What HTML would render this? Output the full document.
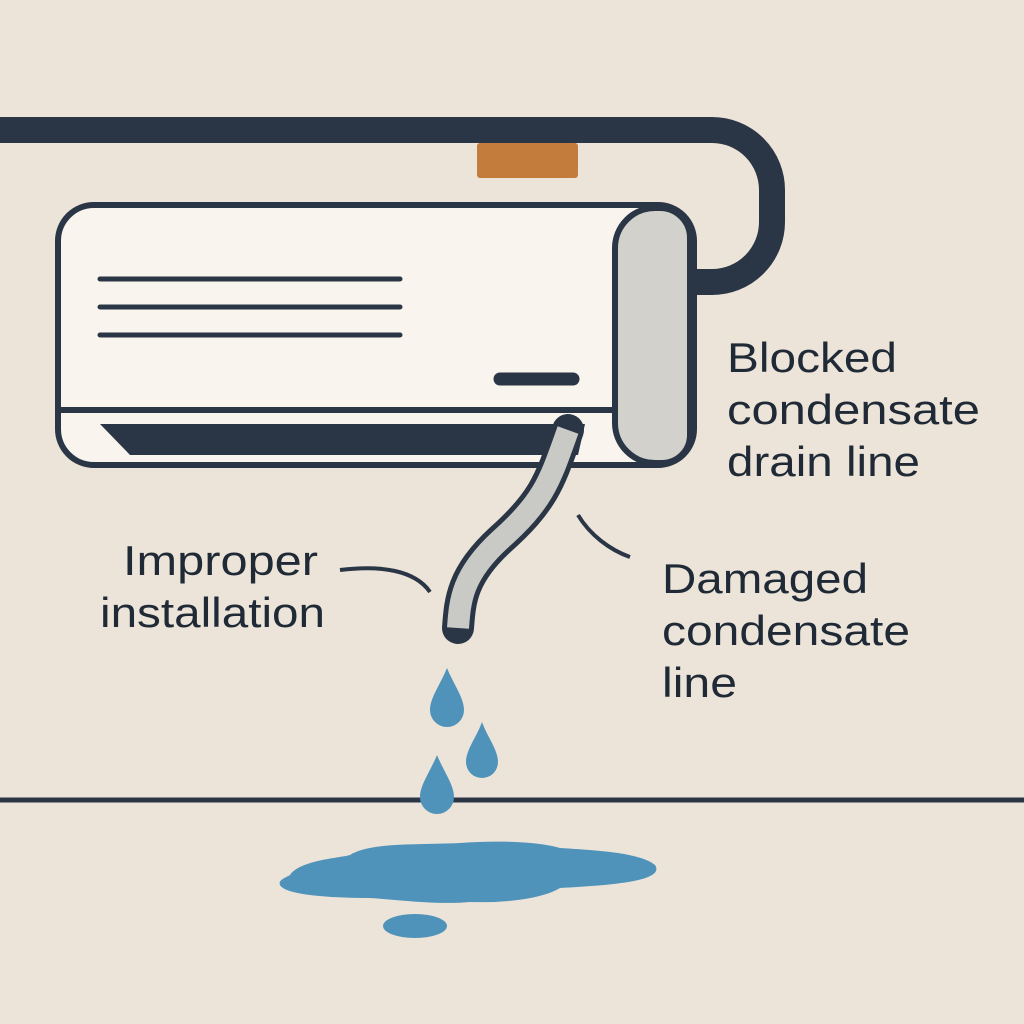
<!DOCTYPE html>
<html><head><meta charset="utf-8"><style>
html,body{margin:0;padding:0;background:#ece4d9;}
svg{display:block}
text{font-family:"Liberation Sans",sans-serif;fill:#1f2a36;font-size:42px}
</style></head><body>
<svg width="1024" height="1024" viewBox="0 0 1024 1024">
<rect width="1024" height="1024" fill="#ece4d9"/>
<path d="M0 130 H712 A60 60 0 0 1 772 190 V222 A60 60 0 0 1 712 282 H690" fill="none" stroke="#2a3645" stroke-width="26"/>
<rect x="477" y="143" width="101" height="35" rx="3" fill="#c47c3c"/>
<rect x="58" y="205" width="636" height="260" rx="36" fill="#f9f5ee" stroke="#2a3645" stroke-width="6"/>
<path d="M60 410 H640" stroke="#2a3645" stroke-width="6"/>
<path d="M100 424 H585 L578 455 H130 Z" fill="#2a3645"/>
<path d="M655 208 H660 A30 30 0 0 1 690 238 V435 A28 28 0 0 1 662 463 H655 A40 40 0 0 1 615 423 V248 A40 40 0 0 1 655 208 Z" fill="#d2d1cc" stroke="#2a3645" stroke-width="6"/>
<path d="M100 279 H400 M100 307 H400 M100 335 H400" stroke="#2a3645" stroke-width="5" stroke-linecap="round"/>
<path d="M500 379 H573" stroke="#2a3645" stroke-width="13" stroke-linecap="round"/>
<path d="M568 430 C550 480 545 500 500 540 C462 575 460 600 458 628" fill="none" stroke="#2a3645" stroke-width="32" stroke-linecap="round"/>
<path d="M568 430 C550 480 545 500 500 540 C462 575 460 600 458 628" fill="none" stroke="#c9c9c6" stroke-width="22" stroke-linecap="butt"/>
<path d="M340 570 C380 565 415 570 430 592" fill="none" stroke="#2a3645" stroke-width="4"/>
<path d="M578 515 C590 535 610 550 630 557" fill="none" stroke="#2a3645" stroke-width="4"/>
<text x="727" y="372" textLength="170" lengthAdjust="spacingAndGlyphs">Blocked</text>
<text x="727" y="424" textLength="253" lengthAdjust="spacingAndGlyphs">condensate</text>
<text x="727" y="476" textLength="193" lengthAdjust="spacingAndGlyphs">drain line</text>
<text x="123" y="575" textLength="195" lengthAdjust="spacingAndGlyphs">Improper</text>
<text x="100" y="627" textLength="225" lengthAdjust="spacingAndGlyphs">installation</text>
<text x="662" y="593" textLength="206" lengthAdjust="spacingAndGlyphs">Damaged</text>
<text x="662" y="645" textLength="248" lengthAdjust="spacingAndGlyphs">condensate</text>
<text x="662" y="697" textLength="75" lengthAdjust="spacingAndGlyphs">line</text>
<path d="M0 800 H1024" stroke="#2a3645" stroke-width="5"/>
<g fill="#4f93bb">
<path d="M447 668 C440 685 430 698 430 710 A17 17 0 0 0 464 710 C464 698 454 685 447 668Z"/>
<path d="M482 722 C476 738 466 750 466 762 A16 16 0 0 0 498 762 C498 750 488 738 482 722Z"/>
<path d="M437 755 C430 772 420 785 420 797 A17 17 0 0 0 454 797 C454 785 444 772 437 755Z"/>
<path d="M290 875 C300 860 340 858 350 855 C370 842 420 845 460 843 C500 840 540 842 560 848 C590 850 640 852 655 865 C665 880 620 885 560 888 C540 900 500 903 470 902 C440 905 400 900 370 898 C330 898 285 895 280 885 C278 880 285 878 290 875Z"/>
<ellipse cx="415" cy="926" rx="32" ry="12"/>
</g>
</svg>
</body></html>
